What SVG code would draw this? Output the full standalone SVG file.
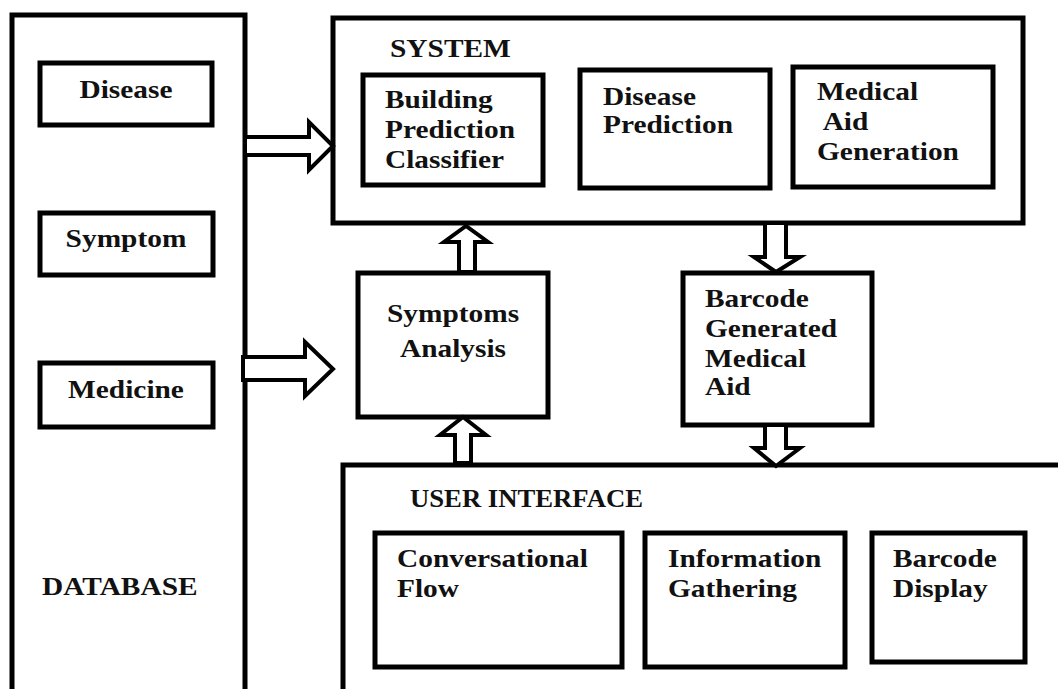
<svg xmlns="http://www.w3.org/2000/svg" width="1058" height="689" viewBox="0 0 1058 689">
<style>
.box{fill:#fff;stroke:#000;stroke-width:5}
.in{fill:#fff;stroke:#000;stroke-width:5}
.arr{fill:#fff;stroke:#000;stroke-width:4;stroke-linejoin:miter}
.t{font-family:"Liberation Serif","Times New Roman",serif;font-weight:bold;font-size:26px;fill:#111}
.c{text-anchor:middle}
</style>
<rect width="1058" height="689" fill="#fff"/>
<g id="database">
<rect class="box" x="12" y="15" width="233" height="720"/>
<text class="t" transform="translate(42 595) scale(1.13 1)">DATABASE</text>
</g>
<g id="db-disease">
<rect class="in" x="40" y="63" width="172" height="62"/>
<text class="t c" transform="translate(126 98) scale(1.13 1)">Disease</text>
</g>
<g id="db-symptom">
<rect class="in" x="40" y="213" width="173" height="62"/>
<text class="t c" transform="translate(126 247) scale(1.13 1)">Symptom</text>
</g>
<g id="db-medicine">
<rect class="in" x="40" y="363" width="173" height="64"/>
<text class="t c" transform="translate(126 398) scale(1.13 1)">Medicine</text>
</g>
<g id="system">
<rect class="box" x="333" y="18" width="690" height="205"/>
<text class="t" transform="translate(390 57) scale(1.13 1)">SYSTEM</text>
</g>
<g id="building-classifier">
<rect class="in" x="363" y="75" width="180" height="110"/>
<text class="t" transform="translate(385 108) scale(1.13 1)"><tspan x="0" y="0">Building</tspan><tspan x="0" y="30">Prediction</tspan><tspan x="0" y="60">Classifier</tspan></text>
</g>
<g id="disease-prediction">
<rect class="in" x="580" y="70" width="190" height="118"/>
<text class="t" transform="translate(603 105) scale(1.13 1)"><tspan x="0" y="0">Disease</tspan><tspan x="0" y="28">Prediction</tspan></text>
</g>
<g id="medical-aid-generation">
<rect class="in" x="793" y="67" width="200" height="120"/>
<text class="t" transform="translate(817 100) scale(1.13 1)"><tspan x="0" y="0">Medical</tspan><tspan x="5" y="30">Aid</tspan><tspan x="0" y="60">Generation</tspan></text>
</g>
<g id="symptoms-analysis">
<rect class="in" x="358" y="273" width="190" height="144"/>
<text class="t c" transform="translate(453 322) scale(1.13 1)"><tspan x="0" y="0">Symptoms</tspan><tspan x="0" y="35">Analysis</tspan></text>
</g>
<g id="barcode-medical-aid">
<rect class="in" x="683" y="273" width="189" height="152"/>
<text class="t" transform="translate(705 307) scale(1.13 1)"><tspan x="0" y="0">Barcode</tspan><tspan x="0" y="30">Generated</tspan><tspan x="0" y="60">Medical</tspan><tspan x="0" y="88">Aid</tspan></text>
</g>
<g id="user-interface">
<rect class="box" x="343" y="465" width="800" height="300"/>
<text class="t" x="410" y="507" textLength="233" lengthAdjust="spacingAndGlyphs">USER INTERFACE</text>
</g>
<g id="conversational-flow">
<rect class="in" x="375" y="533" width="247" height="134"/>
<text class="t" transform="translate(397 567) scale(1.13 1)"><tspan x="0" y="0">Conversational</tspan><tspan x="0" y="30">Flow</tspan></text>
</g>
<g id="information-gathering">
<rect class="in" x="645" y="533" width="200" height="134"/>
<text class="t" transform="translate(668 567) scale(1.13 1)"><tspan x="0" y="0">Information</tspan><tspan x="0" y="30">Gathering</tspan></text>
</g>
<g id="barcode-display">
<rect class="in" x="872" y="533" width="153" height="129"/>
<text class="t" transform="translate(893 567) scale(1.13 1)"><tspan x="0" y="0">Barcode</tspan><tspan x="0" y="30">Display</tspan></text>
</g>
<g id="connectors">
<polygon class="arr" points="245,137 309,137 309,122 333,146 309,170 309,155 245,155"/>
<polygon class="arr" points="243,357 305,357 305,342 333,369 305,396 305,380 243,380"/>
<polygon class="arr" points="459,272 459,242 444,242 466,226 488,242 475,242 475,272"/>
<polygon class="arr" points="455,463 455,435 440,435 463,417 486,435 471,435 471,463"/>
<polygon class="arr" points="765,223 765,257 754,257 776,272 800,257 786,257 786,223"/>
<polygon class="arr" points="765,425 765,448 754,448 776,466 800,448 786,448 786,425"/>
</g>
</svg>
